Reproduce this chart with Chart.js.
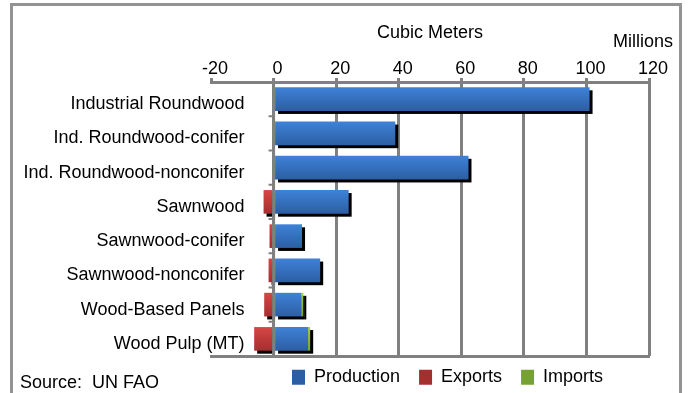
<!DOCTYPE html>
<html>
<head>
<meta charset="utf-8">
<script src="https://cdn.jsdelivr.net/npm/chart.js@4/dist/chart.umd.min.js"></script>
<style>
    html, body { margin: 0; padding: 0; background: #fff; }
    #wrap { position: relative; width: 688px; height: 393px; overflow: hidden; }
    #frame {
        position: absolute; left: 10px; top: 3px; width: 672px; height: 420px;
        border: 3px solid #939393; box-sizing: border-box;
    }
    #chart { position: absolute; left: 0; top: 0; }
</style>
</head>
<body>
<div id="wrap">
    <div id="frame"></div>
    <canvas id="chart" width="688" height="393"></canvas>
</div>
<script>
/* Forest products - production vs trade, million m3 */

const categories = [
    'Industrial Roundwood',
    'Ind. Roundwood-conifer',
    'Ind. Roundwood-nonconifer',
    'Sawnwood',
    'Sawnwood-conifer',
    'Sawnwood-nonconifer',
    'Wood-Based Panels',
    'Wood Pulp (MT)'
];
const production = [101, 38.9, 62.3, 24.0, 9.1, 14.9, 8.8, 11.0];
const exportsVol = [0, 0, 0, -3.2, -1.3, -1.6, -3.0, -6.2];
const importsVol = [0, 0, 0, 0, 0, 0, 0.7, 0.7];

const xMin = -20;
const xMax = 120;
const xStep = 20;

const FONT = "'Liberation Sans', Arial, sans-serif";
const GRID = '#808080';

Chart.defaults.font.family = FONT;
Chart.defaults.font.size = 18;
Chart.defaults.color = '#000';

// vertical gradient per bar, lighter on top
function barFill(top, bottom, flat) {
    return (c) => {
        const y = c.chart.scales.y;
        if (c.type !== 'data' || !y) return flat;
        const mid = y.getPixelForValue(c.dataIndex);
        if (!isFinite(mid)) return flat;
        const g = c.chart.ctx.createLinearGradient(0, mid - 12, 0, mid + 12);
        g.addColorStop(0, top);
        g.addColorStop(1, bottom);
        return g;
    };
}

// black drop shadow under every bar
const barShadow = {
    id: 'barShadow',
    beforeDatasetsDraw(chart) {
        const ctx = chart.ctx;
        ctx.save();
        ctx.fillStyle = '#000';
        chart.getSortedVisibleDatasetMetas().forEach(meta => {
            meta.data.forEach(el => {
                const p = el.getProps(['x', 'y', 'base', 'height'], true);
                const w = Math.abs(p.x - p.base);
                if (w < 0.5) return;
                ctx.fillRect(Math.min(p.x, p.base) + 3, p.y - p.height / 2 + 3, w, p.height);
            });
        });
        ctx.restore();
    }
};

// zero line over the bars, category ticks and the category names beside it
const zeroAxis = {
    id: 'zeroAxis',
    afterDatasetsDraw(chart) {
        const { ctx, chartArea, scales } = chart;
        const x0 = scales.x.getPixelForValue(0);
        ctx.save();
        ctx.strokeStyle = GRID;
        ctx.lineWidth = 3;
        ctx.beginPath();
        ctx.moveTo(x0, chartArea.top);
        ctx.lineTo(x0, chartArea.bottom);
        ctx.stroke();
        ctx.lineWidth = 2;
        for (let i = 0; i <= categories.length; i++) {
            const yy = scales.y.getPixelForValue(i - 0.5);
            ctx.beginPath();
            ctx.moveTo(x0 - 5, yy);
            ctx.lineTo(x0, yy);
            ctx.stroke();
        }
        ctx.font = '18px ' + FONT;
        ctx.fillStyle = '#000';
        ctx.textAlign = 'right';
        ctx.textBaseline = 'middle';
        categories.forEach((name, i) => {
            ctx.fillText(name, x0 - 29, scales.y.getPixelForValue(i) + 5);
        });
        ctx.restore();
    }
};

// extra texts: units and source
const notes = {
    id: 'notes',
    afterDraw(chart) {
        const ctx = chart.ctx;
        ctx.save();
        ctx.font = '18px ' + FONT;
        ctx.fillStyle = '#000';
        ctx.textBaseline = 'middle';
        ctx.textAlign = 'right';
        ctx.fillText('Millions', 673, 42);
        ctx.textAlign = 'left';
        ctx.fillText('Source:  UN FAO', 20, 383);
        ctx.restore();
    }
};

// legend sits right of centre, level with the source note
const legendPlace = {
    id: 'legendPlace',
    afterLayout(chart) {
        const lg = chart.legend;
        const pad = lg.options.labels.padding;
        lg.left = 292 - pad;
        lg.top = 379 - pad - 10.8;
    }
};

new Chart(document.getElementById('chart'), {
    type: 'bar',
    data: {
        labels: categories,
        datasets: [
            {
                label: 'Production',
                data: production,
                backgroundColor: barFill('#3e82d8', '#2c5ea3', '#2f62aa')
            },
            {
                label: 'Exports',
                data: exportsVol,
                backgroundColor: barFill('#d84646', '#a32f2f', '#aa3333')
            },
            {
                label: 'Imports',
                data: importsVol,
                backgroundColor: barFill('#9ccd4c', '#76a234', '#7ca53a')
            }
        ]
    },
    options: {
        indexAxis: 'y',
        responsive: false,
        animation: false,
        layout: { padding: { top: 6, left: 11, right: 39, bottom: 0 } },
        datasets: { bar: { categoryPercentage: 1, barPercentage: 0.69, borderWidth: 0 } },
        scales: {
            x: {
                position: 'top',
                stacked: true,
                min: xMin,
                max: xMax,
                afterFit(s) { s.height = 76; },
                ticks: { stepSize: xStep, padding: -2, labelOffset: 4, color: '#000' },
                grid: {
                    color: c => (c.tick && c.tick.value === xMin) ? 'rgba(0,0,0,0)' : GRID,
                    tickColor: GRID,
                    lineWidth: 3,
                    tickLength: 4
                },
                border: { color: GRID, width: 3 },
                title: {
                    display: true,
                    text: 'Cubic Meters',
                    color: '#000',
                    padding: { top: 16, bottom: 0 }
                }
            },
            x2: {
                axis: 'x',
                type: 'linear',
                position: 'bottom',
                min: xMin,
                max: xMax,
                afterFit(s) { s.height = 0; },
                ticks: { display: false },
                grid: { display: false, drawTicks: false },
                border: { color: GRID, width: 3 }
            },
            y: {
                stacked: true,
                afterFit(s) { s.width = 200; },
                ticks: { display: false },
                grid: { display: false, drawTicks: false },
                border: { display: false }
            }
        },
        plugins: {
            legend: {
                position: 'bottom',
                align: 'start',
                maxHeight: 37,
                labels: { boxWidth: 13, boxHeight: 15, padding: 19, color: '#000' }
            },
            tooltip: { enabled: false }
        }
    },
    plugins: [barShadow, zeroAxis, notes, legendPlace]
});
</script>
</body>
</html>
